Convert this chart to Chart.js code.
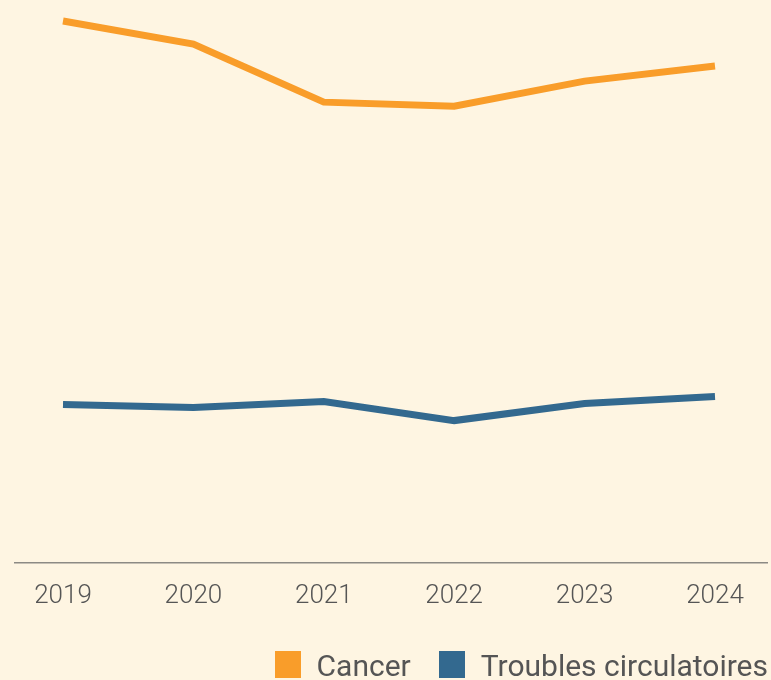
<!DOCTYPE html>
<html>
<head>
<meta charset="utf-8">
<script src="https://cdn.jsdelivr.net/npm/chart.js@4/dist/chart.umd.min.js"></script>
<style>
  html, body { margin: 0; padding: 0; background: #fef5e2; }
  #wrap { position: relative; width: 771px; height: 680px; overflow: hidden; }
  #legend { position: absolute; right: 3px; top: 651px; display: flex; align-items: center;
            font-family: Roboto, sans-serif; font-size: 30px; line-height: 27px; color: #555555; }
  #legend .item { display: flex; align-items: center; }
  #legend .item + .item { margin-left: 28px; }
  #legend .box { width: 26px; height: 27px; margin-right: 16px; }
  #legend .txt { position: relative; top: 1px; }
</style>
</head>
<body>
<div id="wrap">
  <canvas id="c" width="771" height="680"></canvas>
  <div id="legend"></div>
</div>
<script>
const years = ['2019', '2020', '2021', '2022', '2023', '2024'];
const cancer = [541, 518, 460, 456, 481, 496];
const troublesCirculatoires = [158, 155, 161, 142, 159, 166];
const seriesNames = ['Cancer', 'Troubles circulatoires'];
const seriesColors = ['#f99d2a', '#33698f'];

const baseline = {
  id: 'baseline',
  afterDraw(chart) {
    const ctx = chart.ctx;
    const y = chart.chartArea.bottom;
    ctx.save();
    ctx.strokeStyle = '#8c8a84';
    ctx.lineWidth = 1.5;
    ctx.beginPath();
    ctx.moveTo(14, y);
    ctx.lineTo(768, y);
    ctx.stroke();
    ctx.restore();
  }
};

const chart = new Chart(document.getElementById('c'), {
  type: 'line',
  data: {
    labels: years,
    datasets: [
      { label: seriesNames[0], data: cancer, borderColor: seriesColors[0], backgroundColor: seriesColors[0],
        borderWidth: 7, pointRadius: 0, tension: 0, borderCapStyle: 'butt' },
      { label: seriesNames[1], data: troublesCirculatoires, borderColor: seriesColors[1], backgroundColor: seriesColors[1],
        borderWidth: 7, pointRadius: 0, tension: 0, borderCapStyle: 'butt' }
    ]
  },
  options: {
    responsive: false,
    animation: false,
    layout: { padding: { left: 63, right: 56, top: 12, bottom: 50 } },
    scales: {
      x: {
        offset: false,
        grid: { display: false, drawTicks: false },
        border: { display: false },
        ticks: { color: '#555555', font: { family: 'Roboto, sans-serif', size: 26, weight: '300' }, padding: 18, maxRotation: 0 }
      },
      y: { display: false, min: 0, max: 550 }
    },
    plugins: {
      legend: { display: false },
      tooltip: { enabled: false }
    }
  },
  plugins: [baseline]
});

const legendEl = document.getElementById('legend');
chart.data.datasets.forEach(ds => {
  const item = document.createElement('div');
  item.className = 'item';
  const box = document.createElement('span');
  box.className = 'box';
  box.style.background = ds.borderColor;
  const txt = document.createElement('span');
  txt.className = 'txt';
  txt.textContent = ds.label;
  item.appendChild(box);
  item.appendChild(txt);
  legendEl.appendChild(item);
});
</script>
</body>
</html>
